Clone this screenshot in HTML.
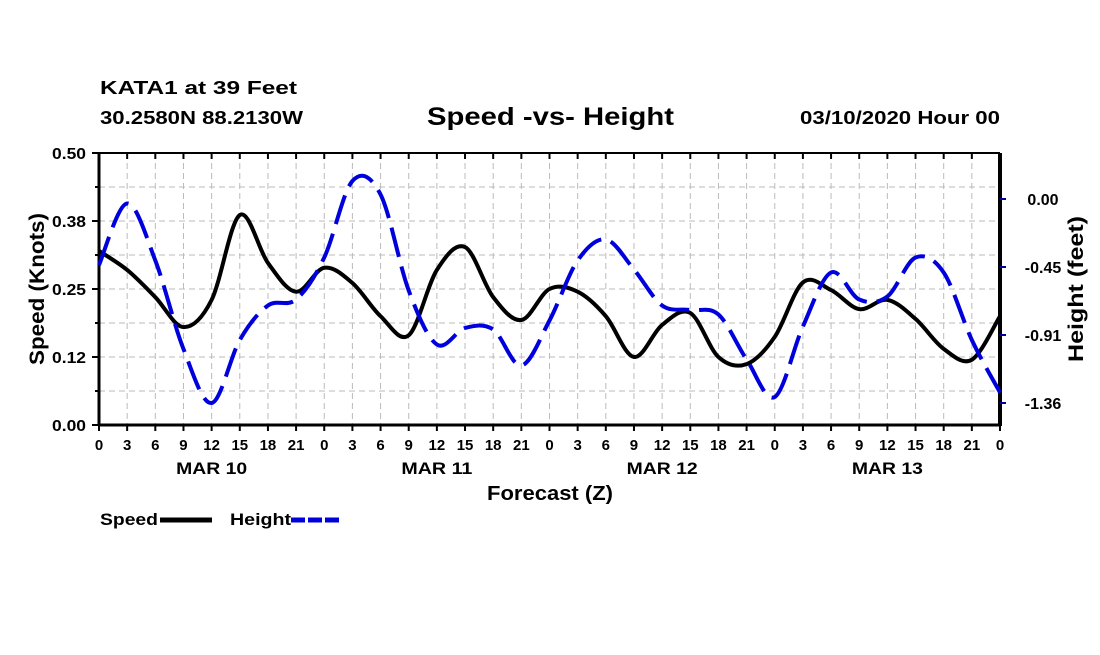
<!DOCTYPE html>
<html><head><meta charset="utf-8"><style>
body{margin:0;background:#fff;width:1100px;height:650px;overflow:hidden}
svg text{font-family:"Liberation Sans",sans-serif;font-weight:bold;fill:#000}
</style></head><body>
<svg id="c" width="1100" height="650">
<text x="100" y="94" font-size="18" textLength="197" lengthAdjust="spacingAndGlyphs">KATA1 at 39 Feet</text>
<text x="100" y="124" font-size="18" textLength="203" lengthAdjust="spacingAndGlyphs">30.2580N 88.2130W</text>
<text x="427" y="125" font-size="25" textLength="247" lengthAdjust="spacingAndGlyphs">Speed -vs- Height</text>
<text x="800" y="124" font-size="18" textLength="200" lengthAdjust="spacingAndGlyphs">03/10/2020 Hour 00</text>
<g id="grid"></g><g id="axes"></g><g id="series"></g>
<text transform="translate(44,289) rotate(-90)" font-size="21" text-anchor="middle" textLength="152" lengthAdjust="spacingAndGlyphs">Speed (Knots)</text>
<text transform="translate(1083,289) rotate(-90)" font-size="21" text-anchor="middle" textLength="146" lengthAdjust="spacingAndGlyphs">Height (feet)</text>
<text x="487" y="500" font-size="20" textLength="126" lengthAdjust="spacingAndGlyphs">Forecast (Z)</text>
<g>
<text x="100" y="525" font-size="17" textLength="58" lengthAdjust="spacingAndGlyphs">Speed</text>
<line x1="160" y1="520" x2="212" y2="520" stroke="#000" stroke-width="5"/>
<text x="230" y="525" font-size="17" textLength="61" lengthAdjust="spacingAndGlyphs">Height</text>
<line x1="291" y1="520" x2="342" y2="520" stroke="#0000dd" stroke-width="5" stroke-dasharray="14,3"/>
</g>
</svg>
<script>
const hours=[0,3,6,9,12,15,18,21,24,27,30,33,36,39,42,45,48,51,54,57,60,63,66,69,72,75,78,81,84,87,90,93,96];
const speed=[0.32,0.285,0.235,0.18,0.23,0.386,0.298,0.245,0.289,0.261,0.2,0.165,0.285,0.327,0.235,0.193,0.25,0.245,0.2,0.125,0.184,0.206,0.125,0.112,0.162,0.262,0.248,0.213,0.23,0.195,0.14,0.12,0.2];
const height=[-0.44,-0.03,-0.41,-1.0,-1.36,-0.94,-0.71,-0.67,-0.39,0.12,0.03,-0.61,-0.97,-0.86,-0.87,-1.11,-0.81,-0.41,-0.27,-0.47,-0.71,-0.74,-0.77,-1.07,-1.32,-0.85,-0.49,-0.67,-0.65,-0.39,-0.49,-0.94,-1.29];
const speedTicks=[0,0.125,0.25,0.375,0.5];
const speedTickLabels=["0.00","0.12","0.25","0.38","0.50"];
const heightTicks=[0,-0.4533,-0.9067,-1.36];
const heightTickLabels=["0.00","-0.45","-0.91","-1.36"];
const hourLabels=["0","3","6","9","12","15","18","21"];
const days=["MAR 10","MAR 11","MAR 12","MAR 13"];
const X0=99,X1=1000,Y0=425,Y1=153;
const xS=h=>X0+(X1-X0)*h/96;
const yS=v=>Y0-(Y0-Y1)*v/0.5;
const yH=v=>199-v*150;
const NS="http://www.w3.org/2000/svg";
function mk(t,a,p){const e=document.createElementNS(NS,t);for(const k in a)e.setAttribute(k,a[k]);p.appendChild(e);return e;}
const grid=document.getElementById('grid'),axes=document.getElementById('axes'),ser=document.getElementById('series');
for(let i=1;i<8;i++){const y=Y0-i*34;const l=mk('line',{x1:X0,x2:X1,y1:y,y2:y,stroke:'#bbb','stroke-dasharray':'6,4'},grid);

}
for(let h=3;h<96;h+=3){const x=xS(h);const l=mk('line',{x1:x,x2:x,y1:Y1,y2:Y0,stroke:'#bbb','stroke-dasharray':'6,4'},grid);

}
mk('line',{x1:X0,x2:X1,y1:Y1,y2:Y1,stroke:'#000','stroke-width':2},axes);
mk('line',{x1:X0,x2:X1,y1:Y0,y2:Y0,stroke:'#000','stroke-width':3},axes);
mk('line',{x1:X0,x2:X0,y1:Y1,y2:Y0,stroke:'#000','stroke-width':3},axes);
mk('line',{x1:X1,x2:X1,y1:Y1,y2:Y0+1,stroke:'#000','stroke-width':4},axes);
for(let i=0;i<=8;i++){const y=Y0-i*34;mk('line',{x1:X0-(i%2?4:7),x2:X0,y1:y,y2:y,stroke:'#000','stroke-width':2},axes);}
speedTicks.forEach((v,i)=>{const t=mk('text',{x:X0-13,y:yS(v)+6,'font-size':16,'text-anchor':'end',textLength:34,lengthAdjust:'spacingAndGlyphs'},axes);t.textContent=speedTickLabels[i];

});
heightTicks.forEach((v,i)=>{const y=yH(v);mk('line',{x1:X1,x2:X1+6,y1:y,y2:y,stroke:'#00a','stroke-width':2},axes);
const t=mk('text',{x:1043,y:y+6,'font-size':16,'text-anchor':'middle'},axes);t.textContent=heightTickLabels[i];

});
for(let h=0;h<=96;h+=3){const x=xS(h);mk('line',{x1:x,x2:x,y1:Y0,y2:Y0+6,stroke:'#000','stroke-width':2},axes);mk('line',{x1:x,x2:x,y1:Y1,y2:Y1+6,stroke:'#000','stroke-width':2},axes);
const t=mk('text',{x:x,y:450,'font-size':15,'text-anchor':'middle'},axes);t.textContent=hourLabels[(h/3)%8];

}
days.forEach((d,i)=>{const t=mk('text',{x:xS(i*24+12),y:474,'font-size':17,'text-anchor':'middle',textLength:71,lengthAdjust:'spacingAndGlyphs'},axes);t.textContent=d;

});
function path(vals,ys){const p=hours.map((h,i)=>[xS(h),ys(vals[i])]);let d='M'+p[0][0]+','+p[0][1];
for(let i=0;i<p.length-1;i++){const a=p[Math.max(i-1,0)],b=p[i],c=p[i+1],e=p[Math.min(i+2,p.length-1)];
d+=' C'+(b[0]+(c[0]-a[0])/6)+','+(b[1]+(c[1]-a[1])/6)+' '+(c[0]-(e[0]-b[0])/6)+','+(c[1]-(e[1]-b[1])/6)+' '+c[0]+','+c[1];}return d;}
const s=mk('path',{d:path(speed,yS),fill:'none',stroke:'#000','stroke-width':4},ser);


const hl=mk('path',{d:path(height,yH),fill:'none',stroke:'#0000dd','stroke-width':4,'stroke-dasharray':'30,10'},ser);


</script>
</body></html>
